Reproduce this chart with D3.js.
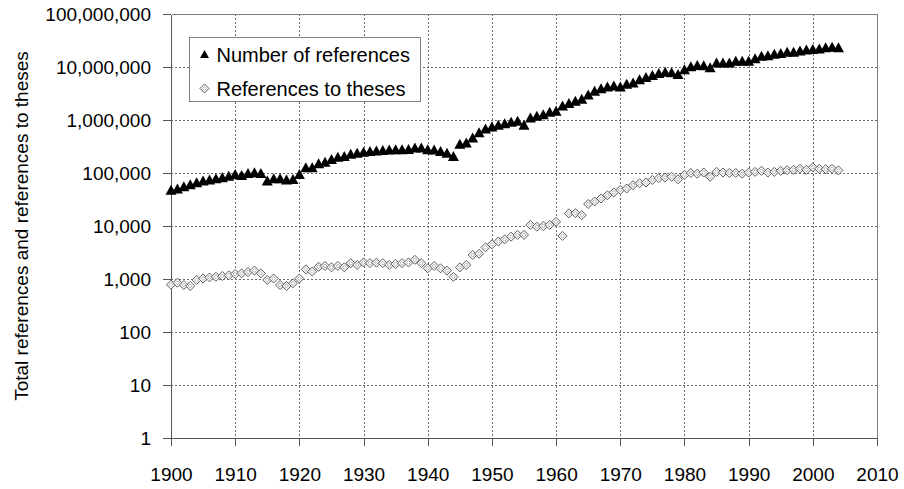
<!DOCTYPE html>
<html>
<head>
<meta charset="utf-8">
<script src="https://cdn.jsdelivr.net/npm/d3@7"></script>
<style>
  body { margin: 0; background: #fff; }
  svg { display: block; font-family: "Liberation Sans", Arial, sans-serif; }
  .grid line { stroke: #6a6a6a; stroke-dasharray: 2,2; shape-rendering: crispEdges; }
  .axis path, .axis line { stroke: #555; shape-rendering: crispEdges; }
  .axis text { font-size: 19px; fill: #000; }
</style>
</head>
<body>
<div id="chart"></div>
<script>
// first year of both series, one value per year
var startYear = 1900;

var totalRefs = [
  46500, 49000, 54000, 59000, 64000, 69000, 72000, 76000, 80000, 85000,           // 1900s
  92000, 88000, 96000, 99000, 96000, 69000, 76000, 76000, 72000, 74000,           // 1910s
  92000, 123000, 123000, 147000, 156000, 175000, 195000, 200000, 220000, 230000,  // 1920s
  240000, 250000, 255000, 260000, 265000, 270000, 270000, 272000, 290000, 290000, // 1930s
  270000, 265000, 250000, 230000, 200000, 340000, 360000, 450000, 560000, 660000, // 1940s
  720000, 780000, 830000, 890000, 930000, 780000, 1070000, 1150000, 1230000, 1370000, // 1950s
  1430000, 1800000, 2000000, 2200000, 2400000, 2900000, 3400000, 3800000, 4100000, 4300000, // 1960s
  4100000, 4600000, 4900000, 5600000, 6200000, 6800000, 7400000, 7800000, 7600000, 7100000, // 1970s
  8700000, 9900000, 10500000, 10300000, 9500000, 11700000, 11700000, 11700000, 12600000, 12600000, // 1980s
  12600000, 14000000, 15600000, 16000000, 17000000, 17500000, 18600000, 18600000, 19600000, 20500000, // 1990s
  21000000, 21500000, 22500000, 23000000, 22500000                                  // 2000-2004
];

var thesesRefs = [
  780, 850, 770, 740, 960, 1020, 1070, 1100, 1140, 1170,
  1240, 1280, 1350, 1440, 1280, 960, 1020, 770, 740, 830,
  1020, 1520, 1380, 1700, 1760, 1660, 1760, 1660, 1990, 1840,
  2050, 1990, 2030, 1990, 1840, 1920, 1990, 2050, 2300, 1990,
  1590, 1760, 1590, 1440, 1100, 1650, 1840, 2840, 3000, 3960,
  4500, 5100, 5600, 6300, 6800, 6800, 10500, 9700, 10000, 10500,
  12000, 6500, 17300, 17500, 16000, 26000, 29000, 33000, 38000, 43000,
  48000, 51000, 59000, 64000, 66000, 74000, 80000, 82000, 85000, 76000,
  92000, 100000, 97000, 102000, 85000, 105000, 102000, 100000, 100000, 97000,
  102000, 105000, 110000, 102000, 105000, 110000, 113000, 115000, 120000, 115000,
  128000, 120000, 118000, 120000, 112000
];

var xTicks = [1900, 1910, 1920, 1930, 1940, 1950, 1960, 1970, 1980, 1990, 2000, 2010];
var yTicks = [1, 10, 100, 1000, 10000, 100000, 1000000, 10000000, 100000000];
var legendLabels = ["Number of references", "References to theses"];
var yTitle = "Total references and references to theses";

var width = 904,
    height = 489;
var margin = {top: 14, right: 27, bottom: 51, left: 171},
    graphWidth = width - margin.left - margin.right,
    graphHeight = height - margin.top - margin.bottom;

var svg = d3.select("#chart").append("svg")
  .attr("width", width)
  .attr("height", height);

var g = svg.append("g")
  .attr("transform", "translate(" + margin.left + "," + margin.top + ")");

var xScale = d3.scaleLinear()
  .domain([1900, 2010])
  .range([0, graphWidth]);

var yScale = d3.scaleLog()
  .domain([1, 100000000])
  .range([graphHeight, 0]);

// dotted grid, inner lines only
g.append("g").attr("class", "grid")
  .selectAll("line")
  .data(yTicks.slice(1, -1))
  .enter().append("line")
  .attr("x1", 0).attr("x2", graphWidth)
  .attr("y1", d => Math.round(yScale(d)) + 0.5)
  .attr("y2", d => Math.round(yScale(d)) + 0.5);

g.append("g").attr("class", "grid")
  .selectAll("line")
  .data(xTicks.slice(1, -1))
  .enter().append("line")
  .attr("y1", 0).attr("y2", graphHeight)
  .attr("x1", d => Math.round(xScale(d)) + 0.5)
  .attr("x2", d => Math.round(xScale(d)) + 0.5);

// top and right frame
g.append("path")
  .attr("d", "M0.5,0.5H" + (graphWidth + 0.5) + "V" + graphHeight)
  .attr("fill", "none")
  .attr("stroke", "#808080")
  .attr("shape-rendering", "crispEdges");

var xAxisCall = d3.axisBottom(xScale)
  .tickValues(xTicks)
  .tickFormat(d3.format("d"))
  .tickSizeInner(8)
  .tickSizeOuter(0)
  .tickPadding(22);

var yAxisCall = d3.axisLeft(yScale)
  .tickValues(yTicks)
  .tickFormat(d3.format(","))
  .tickSizeInner(8)
  .tickSizeOuter(0)
  .tickPadding(12);

g.append("g")
  .attr("class", "axis x-axis")
  .attr("transform", "translate(0," + graphHeight + ")")
  .call(xAxisCall);

g.append("g")
  .attr("class", "axis y-axis")
  .call(yAxisCall);

// axis title
svg.append("text")
  .attr("text-anchor", "middle")
  .attr("transform", "translate(28," + (margin.top + graphHeight / 2) + "), rotate(-90)")
  .style("font-size", "19px")
  .attr("fill", "#000")
  .text(yTitle);

var triPath = "M0,-6L5.5,4L-5.5,4Z";
var diaOuter = "M0,-4.5L4.5,0L0,4.5L-4.5,0Z";
var diaInner = "M0,-2L2,0L0,2L-2,0Z";

function drawDiamond(sel) {
  sel.append("path").attr("d", diaOuter)
    .attr("fill", "#fff").attr("stroke", "#5a5a5a").attr("stroke-width", 1);
  sel.append("path").attr("d", diaInner)
    .attr("fill", "none").attr("stroke", "#b0b0b0").attr("stroke-width", 1);
}

// references to theses
var theses = g.append("g").attr("id", "theses")
  .selectAll("g")
  .data(thesesRefs)
  .enter().append("g")
  .attr("transform", (d, i) => "translate(" + xScale(startYear + i) + "," + yScale(d) + ")");
theses.call(drawDiamond);

// total references
g.append("g").attr("id", "totals")
  .selectAll("path")
  .data(totalRefs)
  .enter().append("path")
  .attr("d", triPath)
  .attr("fill", "#000")
  .attr("transform", (d, i) => "translate(" + xScale(startYear + i) + "," + yScale(d) + ")");

// legend
var legend = svg.append("g")
  .attr("transform", "translate(189.5,37.5)");
legend.append("rect")
  .attr("width", 231)
  .attr("height", 64)
  .attr("fill", "#fff")
  .attr("stroke", "#808080");

var rows = legend.selectAll(".row")
  .data(legendLabels)
  .enter().append("g")
  .attr("class", "row")
  .attr("transform", (d, i) => "translate(15," + (17 + i * 34) + ")");

rows.filter((d, i) => i === 0).append("path")
  .attr("d", "M0,-4.5L4.5,3.5L-4.5,3.5Z")
  .attr("fill", "#000");
rows.filter((d, i) => i === 1).call(drawDiamond);

rows.append("text")
  .attr("x", 12)
  .attr("dy", "0.36em")
  .style("font-size", "20px")
  .attr("fill", "#000")
  .text(d => d);
</script>
</body>
</html>
